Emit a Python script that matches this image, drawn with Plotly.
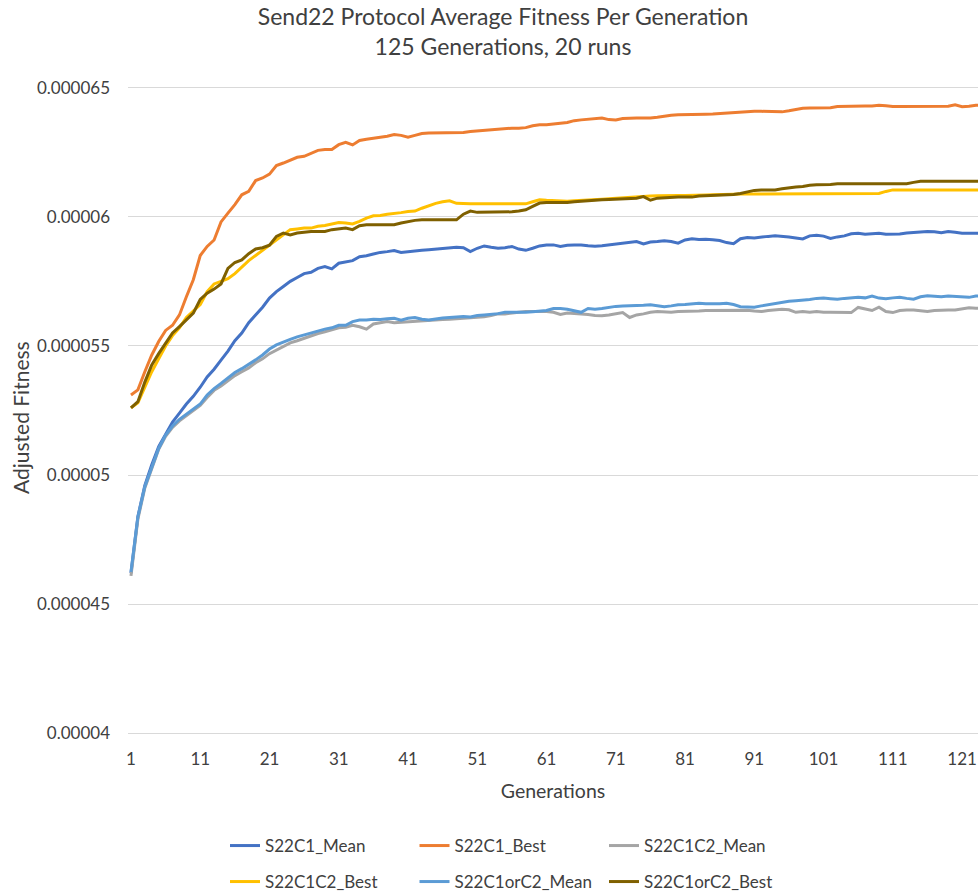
import plotly.graph_objects as go

# Generation numbers 1..125
generations = list(range(1, 126))

# Average adjusted fitness per generation, in units of 1e-6
s22c1_mean = [
    46.2, 48.4, 49.6, 50.4, 51.1, 51.6, 52.05, 52.4, 52.75, 53.05, 53.4, 53.8, 54.1, 54.45, 54.8, 55.2,
    55.5, 55.9, 56.2, 56.5, 56.85, 57.1, 57.3, 57.5, 57.65, 57.8, 57.85, 58.0, 58.07, 57.98, 58.2,
    58.25, 58.3, 58.45, 58.49, 58.56, 58.62, 58.65, 58.69, 58.62, 58.65, 58.69, 58.7, 58.72, 58.75, 58.78,
    58.8, 58.82, 58.8, 58.65, 58.78, 58.87, 58.82, 58.78, 58.8, 58.85, 58.75, 58.7, 58.78, 58.87, 58.91, 58.91,
    58.85, 58.9, 58.91, 58.91, 58.88, 58.86, 58.88, 58.91, 58.95, 58.98, 59.0, 59.04, 58.95, 59.02, 59.04, 59.07,
    59.04, 58.98, 59.1, 59.15, 59.12, 59.13, 59.11, 59.08, 59.0, 58.96, 59.15, 59.2, 59.18, 59.22, 59.24, 59.26,
    59.25, 59.22, 59.18, 59.14, 59.26, 59.28, 59.25, 59.16, 59.22, 59.26, 59.34, 59.36, 59.32, 59.35, 59.36, 59.32,
    59.32, 59.33, 59.37, 59.4, 59.41, 59.43, 59.42, 59.38, 59.43, 59.4, 59.36, 59.36, 59.36, 59.36, 59.36,
]
s22c1_best = [
    53.1, 53.3, 54.0, 54.65, 55.17, 55.6, 55.8, 56.2, 56.9, 57.56, 58.5, 58.85, 59.1, 59.8, 60.14, 60.47,
    60.85, 60.98, 61.4, 61.5, 61.65, 61.98, 62.08, 62.2, 62.3, 62.34, 62.47, 62.57, 62.6, 62.6, 62.79, 62.88,
    62.78, 62.95, 63.0, 63.05, 63.08, 63.12, 63.18, 63.15, 63.08, 63.15, 63.22, 63.24, 63.24, 63.24, 63.24, 63.24,
    63.26, 63.3, 63.32, 63.35, 63.37, 63.4, 63.42, 63.43, 63.43, 63.45, 63.52, 63.56, 63.56, 63.6,
    63.62, 63.65, 63.72, 63.75, 63.77, 63.8, 63.82, 63.76, 63.75, 63.8, 63.82, 63.82, 63.82, 63.82, 63.85, 63.9,
    63.93, 63.95, 63.95, 63.95, 63.95, 63.97, 63.98, 64.0, 64.02, 64.02, 64.06, 64.08, 64.08, 64.08, 64.08, 64.08,
    64.06, 64.1, 64.15, 64.2, 64.21, 64.21, 64.21, 64.22, 64.27, 64.28, 64.28, 64.28, 64.29, 64.29, 64.32, 64.3,
    64.27, 64.27, 64.27, 64.27, 64.27, 64.27, 64.27, 64.27, 64.28, 64.33, 64.26, 64.28, 64.32, 64.32, 64.3,
]
s22c1c2_mean = [
    46.1, 48.3, 49.5, 50.28, 51.0, 51.5, 51.85, 52.1, 52.3, 52.5, 52.7, 53.0, 53.28, 53.45, 53.65, 53.85,
    54.0, 54.15, 54.35, 54.5, 54.7, 54.85, 55.0, 55.12, 55.2, 55.3, 55.38, 55.48, 55.55, 55.62, 55.7,
    55.72, 55.8, 55.74, 55.65, 55.85, 55.9, 55.94, 55.9, 55.92, 55.94, 55.96, 55.98, 56.0, 56.0, 56.02, 56.03,
    56.05, 56.07, 56.07, 56.1, 56.13, 56.18, 56.24, 56.24, 56.26, 56.3, 56.33, 56.33, 56.33, 56.33, 56.3,
    56.22, 56.27, 56.26, 56.24, 56.22, 56.18, 56.17, 56.2, 56.24, 56.29, 56.1, 56.2, 56.24, 56.3, 56.33, 56.31,
    56.3, 56.33, 56.33, 56.33, 56.35, 56.37, 56.37, 56.37, 56.38, 56.39, 56.39, 56.38, 56.35, 56.33, 56.37, 56.39,
    56.42, 56.4, 56.3, 56.33, 56.3, 56.33, 56.3, 56.3, 56.29, 56.29, 56.29, 56.49, 56.42, 56.37, 56.5, 56.33,
    56.29, 56.37, 56.39, 56.39, 56.36, 56.33, 56.37, 56.39, 56.39, 56.39, 56.43, 56.48, 56.46, 56.46, 56.46,
]
s22c1c2_best = [
    52.6, 52.8, 53.4, 54.0, 54.5, 55.0, 55.4, 55.7, 56.1, 56.35, 56.6, 57.1, 57.4, 57.5, 57.6, 57.8,
    58.05, 58.3, 58.5, 58.7, 58.9, 59.1, 59.3, 59.5, 59.53, 59.56, 59.56, 59.63, 59.66, 59.73, 59.78, 59.76,
    59.72, 59.82, 59.95, 60.04, 60.05, 60.1, 60.12, 60.16, 60.2, 60.22, 60.33, 60.44, 60.52, 60.58, 60.62, 60.52,
    60.5, 60.5, 60.5, 60.5, 60.5, 60.5, 60.5, 60.5, 60.5, 60.5, 60.58, 60.66, 60.64, 60.62,
    60.6, 60.6, 60.62, 60.63, 60.65, 60.67, 60.68, 60.7, 60.72, 60.73, 60.74, 60.76, 60.78, 60.8, 60.81, 60.82,
    60.82, 60.82, 60.82, 60.82, 60.83, 60.84, 60.85, 60.85, 60.86, 60.87, 60.88, 60.88, 60.88, 60.88, 60.88, 60.88,
    60.9, 60.9, 60.9, 60.9, 60.9, 60.9, 60.9, 60.9, 60.9, 60.9, 60.9, 60.9, 60.9, 60.9, 60.9, 60.98,
    61.04, 61.04, 61.04, 61.04, 61.04, 61.04, 61.04, 61.04, 61.04, 61.04, 61.04, 61.04, 61.04, 61.04, 61.04,
]
s22c1orc2_mean = [
    46.25, 48.38, 49.55, 50.32, 51.03, 51.55, 51.9, 52.16, 52.36, 52.55, 52.75, 53.1, 53.35, 53.55, 53.75, 53.97,
    54.12, 54.28, 54.46, 54.65, 54.88, 55.04, 55.13, 55.25, 55.35, 55.43, 55.5, 55.58, 55.65, 55.7, 55.8,
    55.8, 55.94, 56.0, 56.0, 56.03, 56.02, 56.05, 56.07, 56.0, 56.07, 56.1, 56.03, 56.0, 56.05, 56.08, 56.1,
    56.13, 56.14, 56.12, 56.18, 56.2, 56.22, 56.25, 56.3, 56.3, 56.28, 56.3, 56.32, 56.34, 56.37, 56.45,
    56.45, 56.42, 56.35, 56.3, 56.45, 56.42, 56.45, 56.5, 56.53, 56.55, 56.55, 56.55, 56.57, 56.59, 56.56, 56.52,
    56.55, 56.59, 56.6, 56.62, 56.65, 56.63, 56.62, 56.63, 56.65, 56.6, 56.52, 56.5, 56.5, 56.55, 56.6, 56.65,
    56.7, 56.73, 56.75, 56.77, 56.8, 56.84, 56.85, 56.83, 56.81, 56.84, 56.87, 56.88, 56.86, 56.93, 56.85, 56.83,
    56.86, 56.88, 56.84, 56.81, 56.9, 56.94, 56.92, 56.9, 56.93, 56.92, 56.9, 56.88, 56.93, 56.94, 56.94,
]
s22c1orc2_best = [
    52.6, 52.84, 53.6, 54.26, 54.7, 55.1, 55.5, 55.75, 56.0, 56.27, 56.8, 57.04, 57.2, 57.4, 58.0, 58.23,
    58.33, 58.57, 58.75, 58.8, 58.9, 59.24, 59.37, 59.3, 59.37, 59.4, 59.43, 59.43, 59.43, 59.5, 59.52, 59.56,
    59.5, 59.65, 59.69, 59.69, 59.69, 59.69, 59.69, 59.76, 59.82, 59.86, 59.88, 59.88, 59.88, 59.88, 59.88, 59.88,
    60.1, 60.22, 60.17, 60.17, 60.17, 60.17, 60.17, 60.19, 60.22, 60.27, 60.4, 60.53, 60.55, 60.55,
    60.53, 60.55, 60.58, 60.6, 60.64, 60.66, 60.66, 60.67, 60.68, 60.68, 60.7, 60.72, 60.78, 60.64, 60.72, 60.74,
    60.76, 60.76, 60.76, 60.76, 60.8, 60.81, 60.82, 60.83, 60.85, 60.86, 60.9, 60.96, 61.02, 61.04, 61.04, 61.04,
    61.08, 61.12, 61.15, 61.17, 61.22, 61.24, 61.24, 61.25, 61.28, 61.28, 61.28, 61.28, 61.28, 61.28, 61.28, 61.28,
    61.28, 61.28, 61.28, 61.33, 61.37, 61.37, 61.37, 61.37, 61.37, 61.37, 61.37, 61.37, 61.37, 61.37,
]

series_names = ["S22C1_Mean", "S22C1_Best", "S22C1C2_Mean",
                "S22C1C2_Best", "S22C1orC2_Mean", "S22C1orC2_Best"]
series_values = [s22c1_mean, s22c1_best, s22c1c2_mean,
                 s22c1c2_best, s22c1orc2_mean, s22c1orc2_best]
series_colors = ["#4472C4", "#ED7D31", "#A5A5A5", "#FFC000", "#5B9BD5", "#7F6000"]

x_tick_values = list(range(1, 126, 10))
y_tick_values = [0.00004, 0.000045, 0.00005, 0.000055, 0.00006, 0.000065]
y_tick_labels = ["0.00004", "0.000045", "0.00005", "0.000055", "0.00006", "0.000065"]

FONT = "Lato, Open Sans, sans-serif"
TEXT = "#404040"

# Plot area geometry (pixels)
W, H = 978, 894
M_L, M_R, M_T, M_B = 128, 0, 85, 158
PLOT_W = W - M_L - M_R
PLOT_H = H - M_T - M_B
PLOT_BOTTOM = H - M_B


def paper_x(px):
    return (px - M_L) / PLOT_W


def paper_y(py):
    return (PLOT_BOTTOM - py) / PLOT_H


fig = go.Figure()
for i, (name, vals, color) in enumerate(zip(series_names, series_values, series_colors)):
    fig.add_trace(go.Scatter(
        x=generations,
        y=[v * 1e-6 for v in vals],
        mode="lines",
        name=name,
        line=dict(color=color, width=3),
        legend="legend" if i < 3 else "legend2",
    ))

legend_common = dict(
    orientation="h",
    xanchor="left",
    yanchor="middle",
    entrywidth=144.5,
    entrywidthmode="pixels",
    font=dict(family=FONT, size=17, color=TEXT),
    bgcolor="rgba(0,0,0,0)",
    traceorder="normal",
)

fig.update_layout(
    width=W,
    height=H,
    margin=dict(l=M_L, r=M_R, t=M_T, b=M_B, autoexpand=False),
    paper_bgcolor="white",
    plot_bgcolor="white",
    title=dict(
        text="Send22 Protocol Average Fitness Per Generation<br>125 Generations, 20 runs",
        x=503 / W, xref="container", xanchor="center",
        y=1 - 25 / H, yref="container", yanchor="middle",
        font=dict(family=FONT, size=23, color=TEXT),
    ),
    xaxis=dict(
        range=[0.57, 123.3],
        tickvals=x_tick_values,
        showgrid=False,
        zeroline=False,
        showline=False,
        ticks="",
        ticklabelstandoff=11,
        tickfont=dict(family=FONT, size=17, color=TEXT),
        automargin=False,
        title=dict(text="Generations", font=dict(family=FONT, size=19.5, color=TEXT), standoff=16),
    ),
    yaxis=dict(
        range=[0.0000399, 0.0000651],
        tickvals=y_tick_values,
        ticktext=y_tick_labels,
        showgrid=True,
        gridcolor="#D9D9D9",
        gridwidth=1,
        zeroline=False,
        showline=False,
        ticks="",
        ticklabelstandoff=17,
        automargin=False,
        tickfont=dict(family=FONT, size=17, color=TEXT),
    ),
    legend=dict(x=paper_x(225), y=paper_y(846), **legend_common),
    legend2=dict(x=paper_x(225), y=paper_y(882), **legend_common),
    showlegend=True,
    annotations=[dict(
        text="Adjusted Fitness",
        textangle=-90,
        xref="paper", yref="paper",
        x=paper_x(20), y=paper_y(418),
        xanchor="center", yanchor="middle",
        showarrow=False,
        font=dict(family=FONT, size=21, color=TEXT),
    )],
)

fig.write_html("out.html")
